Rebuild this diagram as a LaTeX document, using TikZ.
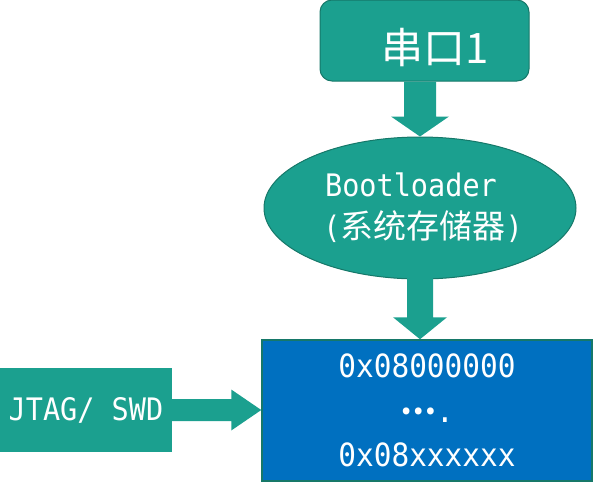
\documentclass[tikz,border=0pt]{standalone}
\usepackage{fontspec}
\newfontfamily\cjkf{Noto Sans CJK SC}
\newfontfamily\monof[FakeStretch=0.92]{DejaVu Sans Mono}
\usetikzlibrary{shapes.geometric,calc}
\definecolor{tealfill}{RGB}{27,160,143}
\definecolor{tealdark}{RGB}{22,120,105}
\definecolor{flashblue}{RGB}{0,112,192}
\begin{document}
\begin{tikzpicture}[x=1pt,y=-1pt,
  tealbox/.style={fill=tealfill, draw=tealdark, line width=1pt, inner sep=0pt},
  blockarrow/.style={fill=tealfill, draw=none}]
\useasboundingbox (0,0) rectangle (595,483);
% nodes
\node[tealbox, rounded corners=12pt, minimum width=209pt, minimum height=81pt,
  label={[text=white,font=\cjkf\fontsize{42}{42}\selectfont,xshift=11pt,yshift=-7pt]center:串口1}]
  (uart) at (424.5,40.5) {};
\node[tealbox, ellipse, minimum width=312pt, minimum height=142pt, text=white, align=center,
  font={\monof\fontsize{31}{42}\selectfont}]
  (boot) at (420,208) {Bootloader\hspace*{18pt}\\\hspace*{6pt}({\cjkf\fontsize{33}{42}\selectfont 系统存储器})};
\node[draw=tealdark, fill=flashblue, line width=1.5pt, minimum width=330pt, minimum height=141pt,
  inner sep=0pt, text=white, align=center, font={\monof\fontsize{32}{44.5}\selectfont}]
  (flash) at (427,410.5) {0x08000000\\{\cjkf\bfseries\raisebox{8pt}{…}}.\\0x08xxxxxx};
\node[fill=tealfill, minimum width=172pt, minimum height=84pt, inner sep=0pt, text=white,
  font=\monof\fontsize{31}{31}\selectfont]
  (jtag) at (86,410) {JTAG/ SWD};
% block arrows
\coordinate (a1s) at (uart.south -| boot.north);
\fill[blockarrow] ($(a1s)+(-16,0)$) -- ($(boot.north)+(-16,-20)$) -- ($(boot.north)+(-29,-20)$)
  -- (boot.north) -- ($(boot.north)+(29,-20)$) -- ($(boot.north)+(16,-20)$) -- ($(a1s)+(16,0)$) -- cycle;
\coordinate (a2e) at (flash.north -| boot.south);
\fill[blockarrow] ($(boot.south)+(-13,-2)$) -- ($(a2e)+(-13,-22)$) -- ($(a2e)+(-27,-22)$)
  -- (a2e) -- ($(a2e)+(27,-22)$) -- ($(a2e)+(13,-22)$) -- ($(boot.south)+(13,-2)$) -- cycle;
\coordinate (a3e) at (flash.west |- jtag.east);
\fill[blockarrow] ($(jtag.east)+(-1,-11)$) -- ($(a3e)+(-30,-11)$) -- ($(a3e)+(-30,-20.5)$)
  -- (a3e) -- ($(a3e)+(-30,20.5)$) -- ($(a3e)+(-30,11)$) -- ($(jtag.east)+(-1,11)$) -- cycle;
\end{tikzpicture}
\end{document}
